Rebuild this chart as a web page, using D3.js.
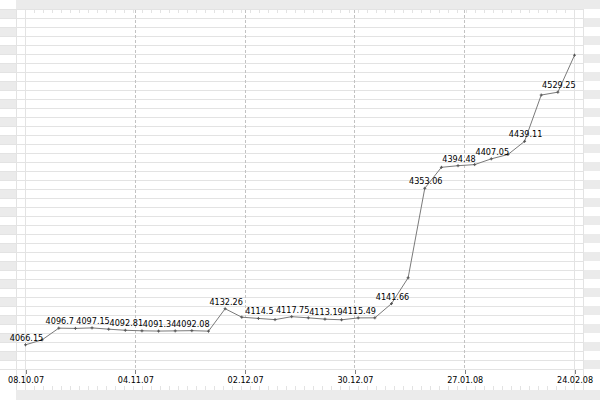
<!DOCTYPE html>
<html>
<head>
<meta charset="utf-8">
<script src="https://cdn.jsdelivr.net/npm/d3@7/dist/d3.min.js"></script>
<style>
  body { margin: 0; background: #fff; }
  svg { display: block; }
  text { font-family: "DejaVu Sans Condensed", "DejaVu Sans", sans-serif; font-stretch: condensed; font-size: 9px; fill: #000; }
</style>
</head>
<body>
<svg id="chart" width="600" height="400"></svg>
<script>
// ---- data ----
const values = [
  4066.15, 4075.3, 4096.7, 4096.2, 4097.15, 4094.8, 4092.81, 4091.8, 4091.34, 4091.7,
  4092.08, 4091.2, 4132.26, 4116.8, 4114.5, 4112.3, 4117.75, 4115.6, 4113.19, 4112.0,
  4115.49, 4115.6, 4141.66, 4189.0, 4353.06, 4391.5, 4394.48, 4396.5, 4407.05, 4415.0,
  4439.11, 4524.0, 4529.25, 4597.0
];
const tickLabels = ["08.10.07", "04.11.07", "02.12.07", "30.12.07", "27.01.08", "24.02.08"];
const yDomain = [4020.9, 4680.8];

// ---- layout ----
const W = 600, H = 400;
const pLeft = 25.5, pRight = 574.5, pTop = 9.5, pBottom = 369.5;
const outerL = 16.5, outerR = 583.5, bandBottom = 390;
const rowH = 9;
const nRows = 40;

const svg = d3.select("#chart");

const x = d3.scaleLinear().domain([0, values.length - 1]).range([pLeft, pRight]);
const xt = d3.scalePoint().domain(tickLabels).range([pLeft, pRight]);
const y = d3.scaleLinear().domain(yDomain).range([pBottom, pTop]);

const bg = svg.append("g").attr("shape-rendering", "crispEdges");
const grey = "#ebebeb", gridC = "#e3e3e3";

// top band
bg.append("rect").attr("x", 16).attr("y", 0).attr("width", W - 16).attr("height", 9).attr("fill", grey);
// bottom band
bg.append("rect").attr("x", 16).attr("y", bandBottom).attr("width", W - 16).attr("height", H - bandBottom).attr("fill", grey);
// side stripes
d3.range(nRows).forEach(k => {
  const yy = 9 + k * rowH;
  if (k % 2 === 0) bg.append("rect").attr("x", 0).attr("y", yy).attr("width", 16).attr("height", rowH).attr("fill", grey);
  else bg.append("rect").attr("x", 584).attr("y", yy).attr("width", W - 584).attr("height", rowH).attr("fill", grey);
});
// horizontal grid lines
d3.range(nRows + 1).forEach(k => {
  const yy = 9.5 + k * rowH;
  bg.append("line").attr("x1", 0).attr("x2", outerR).attr("y1", yy).attr("y2", yy)
    .attr("stroke", gridC).attr("stroke-width", 1);
});
// vertical frame lines
[outerL, pLeft, pRight, outerR].forEach(xx => {
  bg.append("line").attr("x1", xx).attr("x2", xx).attr("y1", 9).attr("y2", bandBottom)
    .attr("stroke", gridC).attr("stroke-width", 1);
});
// minor ticks top & bottom
d3.range(0, 62).forEach(k => {
  const xx = pLeft + k * 9;
  bg.append("line").attr("x1", xx).attr("x2", xx).attr("y1", 9).attr("y2", 13).attr("stroke", gridC);
  bg.append("line").attr("x1", xx).attr("x2", xx).attr("y1", 386).attr("y2", 390).attr("stroke", gridC);
});
// dashed vertical date grid lines
tickLabels.slice(1, -1).forEach(d => {
  const xx = Math.round(xt(d) - 0.5) + 0.5;
  bg.append("line").attr("x1", xx).attr("x2", xx).attr("y1", 10).attr("y2", pBottom)
    .attr("stroke", "#c2c2c2").attr("stroke-dasharray", "3,2");
});

// x axis
const axis = d3.axisBottom(xt).tickSize(4).tickPadding(3);
const gx = svg.append("g").attr("transform", `translate(0,${pBottom})`).call(axis);
gx.attr("font-family", null).attr("font-size", null);
gx.select(".domain").remove();
gx.selectAll(".tick line").attr("stroke", "#808080").attr("shape-rendering", "crispEdges");
gx.selectAll(".tick text").attr("fill", "#000");

// line
const line = d3.line().x((d, i) => x(i)).y(d => y(d));
svg.append("path").datum(values).attr("d", line).attr("fill", "none")
  .attr("stroke", "#7a7a7a").attr("stroke-width", 1);

// markers
svg.append("g").selectAll("path").data(values).join("path")
  .attr("d", (d, i) => `M${x(i) - 1.5},${y(d)}h3M${x(i)},${y(d) - 1.5}v3`)
  .attr("stroke", "#555").attr("stroke-width", 1).attr("fill", "none");

// labels (every other point)
svg.append("g").selectAll("text").data(values.map((v, i) => ({ v, i })).filter(d => d.i % 2 === 0 && d.i < values.length - 1))
  .join("text")
  .attr("x", d => x(d.i) + 1)
  .attr("y", d => y(d.v) - 4)
  .attr("text-anchor", "middle")
  .text(d => String(d.v));
</script>
</body>
</html>
